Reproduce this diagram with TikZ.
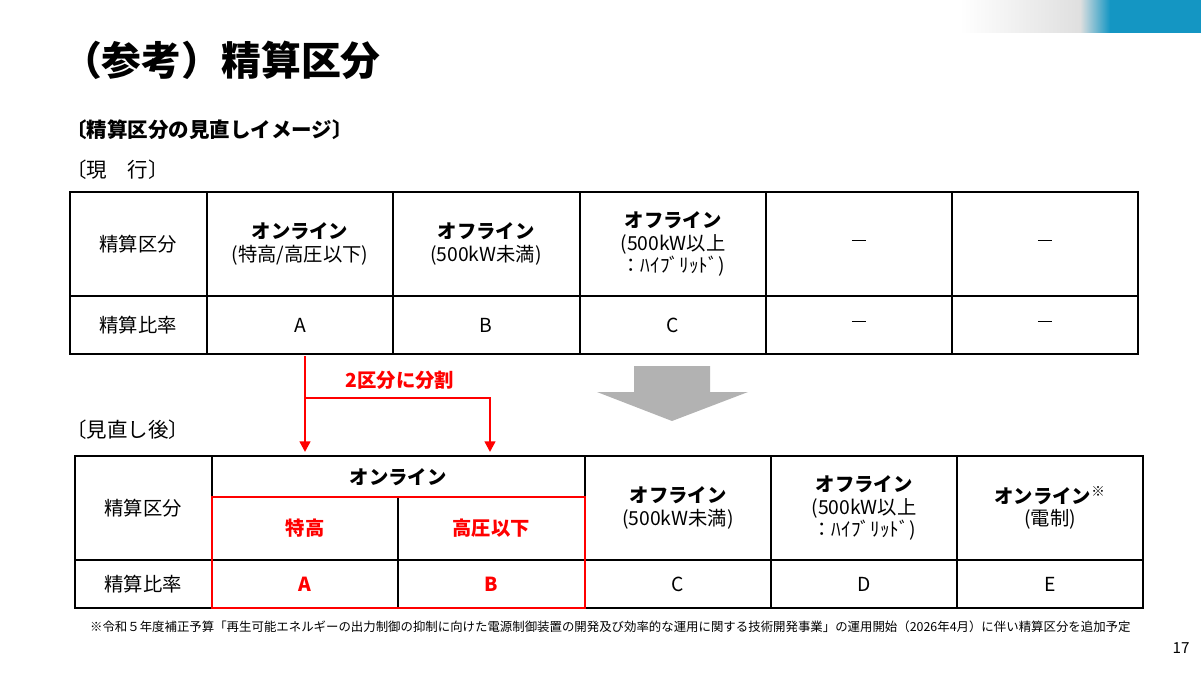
\documentclass[tikz,border=0pt]{standalone}
\usepackage{fontspec}
\setmainfont{Noto Sans CJK JP}
\usetikzlibrary{arrows.meta}
\definecolor{redline}{RGB}{255,0,0}
\definecolor{teal}{RGB}{20,150,195}
\newcommand{\nodash}{\rule[0.35em]{0.75em}{1.2pt}}
\tikzset{
  cell/.style={align=center, font=\fontsize{16.5}{19}\selectfont, inner sep=0pt},
  red cell/.style={cell, text=redline, font=\fontsize{16.5}{19}\selectfont\bfseries},
  grid/.style={line width=0.9pt},
  split/.style={draw=redline, line width=2pt},
}
\begin{document}
\begin{tikzpicture}[x=0.03cm, y=-0.03cm]
  \useasboundingbox (0,0) rectangle (1201,676);
  % header band
  \shade[left color=white, right color=gray!25] (960,0) rectangle (1080,33);
  \fill[teal] (1080,0) rectangle (1201,33);
  \shade[left color=gray!25, right color=teal] (1080,0) rectangle (1110,33);
  % titles
  \node[anchor=west, font=\fontsize{34}{38}\selectfont\bfseries] (title) at (58,60) {（参考）精算区分};
  \node[anchor=west, font=\fontsize{17.5}{20}\selectfont\bfseries] (sub) at (62,130) {〔精算区分の見直しイメージ〕};
  \node[anchor=west, font=\fontsize{17.5}{20}\selectfont] (now) at (62,170) {〔現\quad 行〕};
  \node[anchor=west, font=\fontsize{17.5}{20}\selectfont] (after) at (62,430) {〔見直し後〕};
  % current table
  \draw[grid] (70,192) rectangle (1138,354);
  \draw[grid] (70,296) -- (1138,296);
  \foreach \x in {207,393,580,766,952} \draw[grid] (\x,192) -- (\x,354);
  \node[cell] (a1) at (138,244) {精算区分};
  \node[cell] (a2) at (300,244) {\textbf{オンライン}\\(特高/高圧以下)};
  \node[cell] (a3) at (486,244) {\textbf{オフライン}\\(500kW未満)};
  \node[cell] (a4) at (673,244) {\textbf{オフライン}\\(500kW以上\\：ﾊｲﾌﾞﾘｯﾄﾞ)};
  \node[cell] (a5) at (859,244) {\nodash};
  \node[cell] (a6) at (1045,244) {\nodash};
  \node[cell] (b1) at (138,325) {精算比率};
  \node[cell] (b2) at (300,325) {A};
  \node[cell] (b3) at (486,325) {B};
  \node[cell] (b4) at (673,325) {C};
  \node[cell] (b5) at (859,325) {\nodash};
  \node[cell] (b6) at (1045,325) {\nodash};
  % split arrows
  \coordinate (s0) at (305,356);
  \coordinate (s1) at (305,398);
  \coordinate (s2) at (490,398);
  \coordinate (t1) at (305,452);
  \coordinate (t2) at (490,452);
  \draw[split, -{Triangle[length=9pt,width=9pt]}] (s0) -- (t1);
  \draw[split, -{Triangle[length=9pt,width=9pt]}] (s1) -- (s2) -- (t2);
  \node[red cell] (lab) at (400,380) {2区分に分割};
  % gray arrow
  \fill[gray!60] (634,366) -- (710,366) -- (710,392) -- (748,392) -- (672,421) -- (597,392) -- (634,392) -- cycle;
  % revised table
  \draw[grid] (75,456) rectangle (1143,608);
  \draw[grid] (75,560) -- (1143,560);
  \draw[grid] (212,497) -- (585,497);
  \foreach \x in {212,585,771,957} \draw[grid] (\x,456) -- (\x,608);
  \draw[grid] (398,497) -- (398,608);
  \draw[split] (212,497) rectangle (585,608);
  \node[cell] (c1) at (143,508) {精算区分};
  \node[cell] (c2) at (398,477) {\textbf{オンライン}};
  \node[red cell] (c3) at (305,528) {特高};
  \node[red cell] (c4) at (491,528) {高圧以下};
  \node[cell] (c5) at (678,508) {\textbf{オフライン}\\(500kW未満)};
  \node[cell] (c6) at (864,508) {\textbf{オフライン}\\(500kW以上\\：ﾊｲﾌﾞﾘｯﾄﾞ)};
  \node[cell] (c7) at (1050,508) {\textbf{オンライン}\textsuperscript{※}\\(電制)};
  \node[cell] (d1) at (143,584) {精算比率};
  \node[red cell] (d2) at (305,584) {A};
  \node[red cell] (d3) at (491,584) {B};
  \node[cell] (d4) at (678,584) {C};
  \node[cell] (d5) at (864,584) {D};
  \node[cell] (d6) at (1050,584) {E};
  % footnote
  \node[anchor=west, font=\fontsize{10.6}{12}\selectfont] (note) at (86,627) {※令和５年度補正予算「再生可能エネルギーの出力制御の抑制に向けた電源制御装置の開発及び効率的な運用に関する技術開発事業」の運用開始（2026年4月）に伴い精算区分を追加予定};
  \node[font=\fontsize{13}{15}\selectfont] (page) at (1181,648) {17};
\end{tikzpicture}
\end{document}
